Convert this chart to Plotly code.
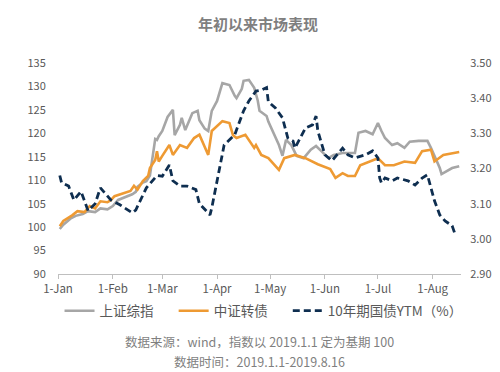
import plotly.graph_objects as go

# ---- data ----
sh_dates = ["2019-01-02","2019-01-04","2019-01-08","2019-01-11","2019-01-15","2019-01-18","2019-01-22",
            "2019-01-25","2019-01-29","2019-01-31","2019-02-01","2019-02-04","2019-02-12","2019-02-14",
            "2019-02-15","2019-02-18","2019-02-20","2019-02-22","2019-02-25","2019-02-26","2019-02-27",
            "2019-03-01","2019-03-04","2019-03-07","2019-03-08","2019-03-11","2019-03-12","2019-03-14",
            "2019-03-18","2019-03-21","2019-03-22","2019-03-25","2019-03-27","2019-03-29","2019-04-01",
            "2019-04-04","2019-04-08","2019-04-11","2019-04-12","2019-04-15","2019-04-16","2019-04-19",
            "2019-04-22","2019-04-24","2019-04-25","2019-04-29","2019-04-30","2019-05-06","2019-05-08",
            "2019-05-10","2019-05-13","2019-05-16","2019-05-20","2019-05-24","2019-05-27","2019-05-30",
            "2019-06-03","2019-06-06","2019-06-11","2019-06-14","2019-06-18","2019-06-20","2019-06-24",
            "2019-06-28","2019-07-01","2019-07-03","2019-07-05","2019-07-09","2019-07-12","2019-07-16",
            "2019-07-19","2019-07-24","2019-07-29","2019-07-31","2019-08-05","2019-08-06","2019-08-09",
            "2019-08-12","2019-08-16"]
sh_values = [99.6,100.5,101.8,102.4,102.8,103.4,103.2,
             104.0,103.8,104.2,104.5,105.8,107.0,107.5,
             108.6,109.5,109.8,111.0,118.8,118.6,119.4,
             120.5,123.5,125.0,119.6,121.8,123.3,120.7,
             124.3,124.8,122.8,121.0,120.5,124.8,126.9,
             130.7,130.3,128.0,127.5,129.5,131.2,131.4,
             129.7,127.0,124.8,123.7,122.5,117.5,115.2,
             118.6,117.5,115.2,114.7,116.5,117.3,116.2,
             114.7,115.4,115.8,115.8,115.8,120.1,120.5,
             119.8,122.2,120.5,119.0,117.5,117.9,116.9,
             118.2,118.4,118.4,116.9,112.6,111.3,112.0,
             112.6,113.0]

cb_dates = ["2019-01-02","2019-01-04","2019-01-09","2019-01-12","2019-01-16","2019-01-19","2019-01-22",
            "2019-01-25","2019-01-29","2019-01-31","2019-02-02","2019-02-11","2019-02-13","2019-02-15",
            "2019-02-18","2019-02-21","2019-02-22","2019-02-25","2019-02-26","2019-02-27","2019-03-01",
            "2019-03-05","2019-03-07","2019-03-11","2019-03-15","2019-03-19","2019-03-22","2019-03-26",
            "2019-03-27","2019-03-29","2019-04-04","2019-04-08","2019-04-10","2019-04-12","2019-04-17",
            "2019-04-22","2019-04-23","2019-04-26","2019-04-30","2019-05-06","2019-05-09","2019-05-15",
            "2019-05-21","2019-05-28","2019-06-04","2019-06-07","2019-06-11","2019-06-14","2019-06-18",
            "2019-06-21","2019-06-27","2019-07-01","2019-07-05","2019-07-10","2019-07-16","2019-07-22",
            "2019-07-26","2019-07-31","2019-08-02","2019-08-07","2019-08-13","2019-08-16"]
cb_values = [100.2,101.3,102.5,103.4,103.2,104.5,104.0,
             105.5,105.3,105.8,106.6,107.7,108.8,108.0,
             109.8,110.9,112.6,114.3,116.2,114.0,115.2,
             117.5,115.4,117.5,116.9,119.0,119.7,116.2,
             115.4,120.5,122.6,122.2,119.6,119.0,119.7,
             116.9,117.5,115.4,114.7,112.2,114.7,115.4,
             114.7,113.4,112.4,110.5,111.5,110.9,110.9,
             113.2,114.0,114.7,113.2,113.2,114.0,113.7,
             116.2,116.5,114.0,115.4,115.8,116.0]

ytm_dates = ["2019-01-02","2019-01-03","2019-01-07","2019-01-10","2019-01-14","2019-01-18","2019-01-22",
             "2019-01-25","2019-01-31","2019-02-05","2019-02-12","2019-02-14","2019-02-20","2019-02-26",
             "2019-03-01","2019-03-05","2019-03-07","2019-03-11","2019-03-15","2019-03-20","2019-03-22",
             "2019-03-26","2019-03-28","2019-03-29","2019-04-01","2019-04-03","2019-04-05","2019-04-11",
             "2019-04-16","2019-04-19","2019-04-23","2019-04-26","2019-04-29","2019-04-30","2019-05-04",
             "2019-05-08","2019-05-11","2019-05-14","2019-05-15","2019-05-21","2019-05-25","2019-05-27",
             "2019-05-28","2019-06-01","2019-06-05","2019-06-11","2019-06-14","2019-06-18","2019-06-24",
             "2019-06-28","2019-07-01","2019-07-02","2019-07-03","2019-07-05","2019-07-09","2019-07-12",
             "2019-07-18","2019-07-22","2019-07-26","2019-07-29","2019-07-31","2019-08-02","2019-08-05",
             "2019-08-08","2019-08-12","2019-08-14"]
ytm_values = [3.18,3.16,3.15,3.11,3.135,3.08,3.10,
              3.145,3.11,3.097,3.074,3.082,3.145,3.18,
              3.178,3.21,3.165,3.15,3.15,3.14,3.10,
              3.08,3.068,3.088,3.165,3.21,3.267,3.296,
              3.364,3.392,3.42,3.423,3.43,3.39,3.372,
              3.344,3.287,3.278,3.258,3.315,3.324,3.349,
              3.307,3.239,3.222,3.258,3.239,3.23,3.239,
              3.25,3.23,3.173,3.159,3.173,3.165,3.173,
              3.165,3.153,3.173,3.182,3.145,3.108,3.068,
              3.051,3.037,3.008]

series_names = ["上证综指", "中证转债", "10年期国债YTM（%）"]
x_tickvals = ["2019-01-01","2019-02-01","2019-03-01","2019-04-01","2019-05-01","2019-06-01","2019-07-01","2019-08-01"]
x_ticktext = ["1-Jan","1-Feb","1-Mar","1-Apr","1-May","1-Jun","1-Jul","1-Aug"]
left_ticks = [90,95,100,105,110,115,120,125,130,135]
right_ticks = [2.9,3.0,3.1,3.2,3.3,3.4,3.5]

FONT = "Noto Sans CJK SC"
GRAY = "#A6A6A6"
ORANGE = "#EE9A33"
NAVY = "#0E2E50"
TXT = "#595959"
PAD = "\u00a0" * 5  # spacing between legend entries

fig = go.Figure()
fig.add_trace(go.Scatter(x=sh_dates, y=sh_values, name=series_names[0] + PAD, mode="lines",
                         line=dict(color=GRAY, width=2.6)))
fig.add_trace(go.Scatter(x=cb_dates, y=cb_values, name=series_names[1] + PAD, mode="lines",
                         line=dict(color=ORANGE, width=2.6)))
fig.add_trace(go.Scatter(x=ytm_dates, y=ytm_values, name=series_names[2], mode="lines",
                         line=dict(color=NAVY, width=2.8, dash="7px,4px"), yaxis="y2"))

fig.update_layout(
    width=500, height=372,
    margin=dict(l=50, r=47, t=55, b=106),
    paper_bgcolor="white", plot_bgcolor="white",
    font=dict(family=FONT, size=11, color=TXT),
    title=dict(text="<b>年初以来市场表现</b>", x=0.5, xanchor="center", y=0.955, yanchor="middle",
               font=dict(family=FONT, size=15, color="#7F7F7F")),
    xaxis=dict(type="date", range=["2019-01-01", "2019-08-17"], tickvals=x_tickvals, ticktext=x_ticktext,
               showgrid=False, zeroline=False, showline=True, linecolor="#BFBFBF", linewidth=1,
               ticks="outside", ticklen=4, tickcolor="#BFBFBF",
               tickfont=dict(family=FONT, size=11.5, color=TXT)),
    yaxis=dict(range=[90, 135], tickvals=left_ticks, showgrid=False, zeroline=False, showline=False,
               ticks="outside", ticklen=9, tickcolor="rgba(0,0,0,0)",
               tickfont=dict(family=FONT, size=11, color=TXT)),
    yaxis2=dict(range=[2.9, 3.5], tickvals=right_ticks, tickformat=".2f", overlaying="y", side="right",
                showgrid=False, zeroline=False, showline=False,
                ticks="outside", ticklen=6, tickcolor="rgba(0,0,0,0)",
                tickfont=dict(family=FONT, size=11, color=TXT)),
    legend=dict(orientation="h", x=0.51, xanchor="center", y=-0.175, yanchor="middle",
                font=dict(family=FONT, size=13.5, color=TXT), bgcolor="rgba(0,0,0,0)"),
    showlegend=True,
)
fig.add_annotation(text="数据来源：wind，指数以 2019.1.1 定为基期 100", xref="paper", yref="paper",
                   x=0.5, y=-0.322, xanchor="center", yanchor="middle", showarrow=False,
                   font=dict(family=FONT, size=12.5, color="#7F7F7F"))
fig.add_annotation(text="数据时间：2019.1.1-2019.8.16", xref="paper", yref="paper",
                   x=0.5, y=-0.417, xanchor="center", yanchor="middle", showarrow=False,
                   font=dict(family=FONT, size=12.5, color="#7F7F7F"))

fig.write_html("out.html")
